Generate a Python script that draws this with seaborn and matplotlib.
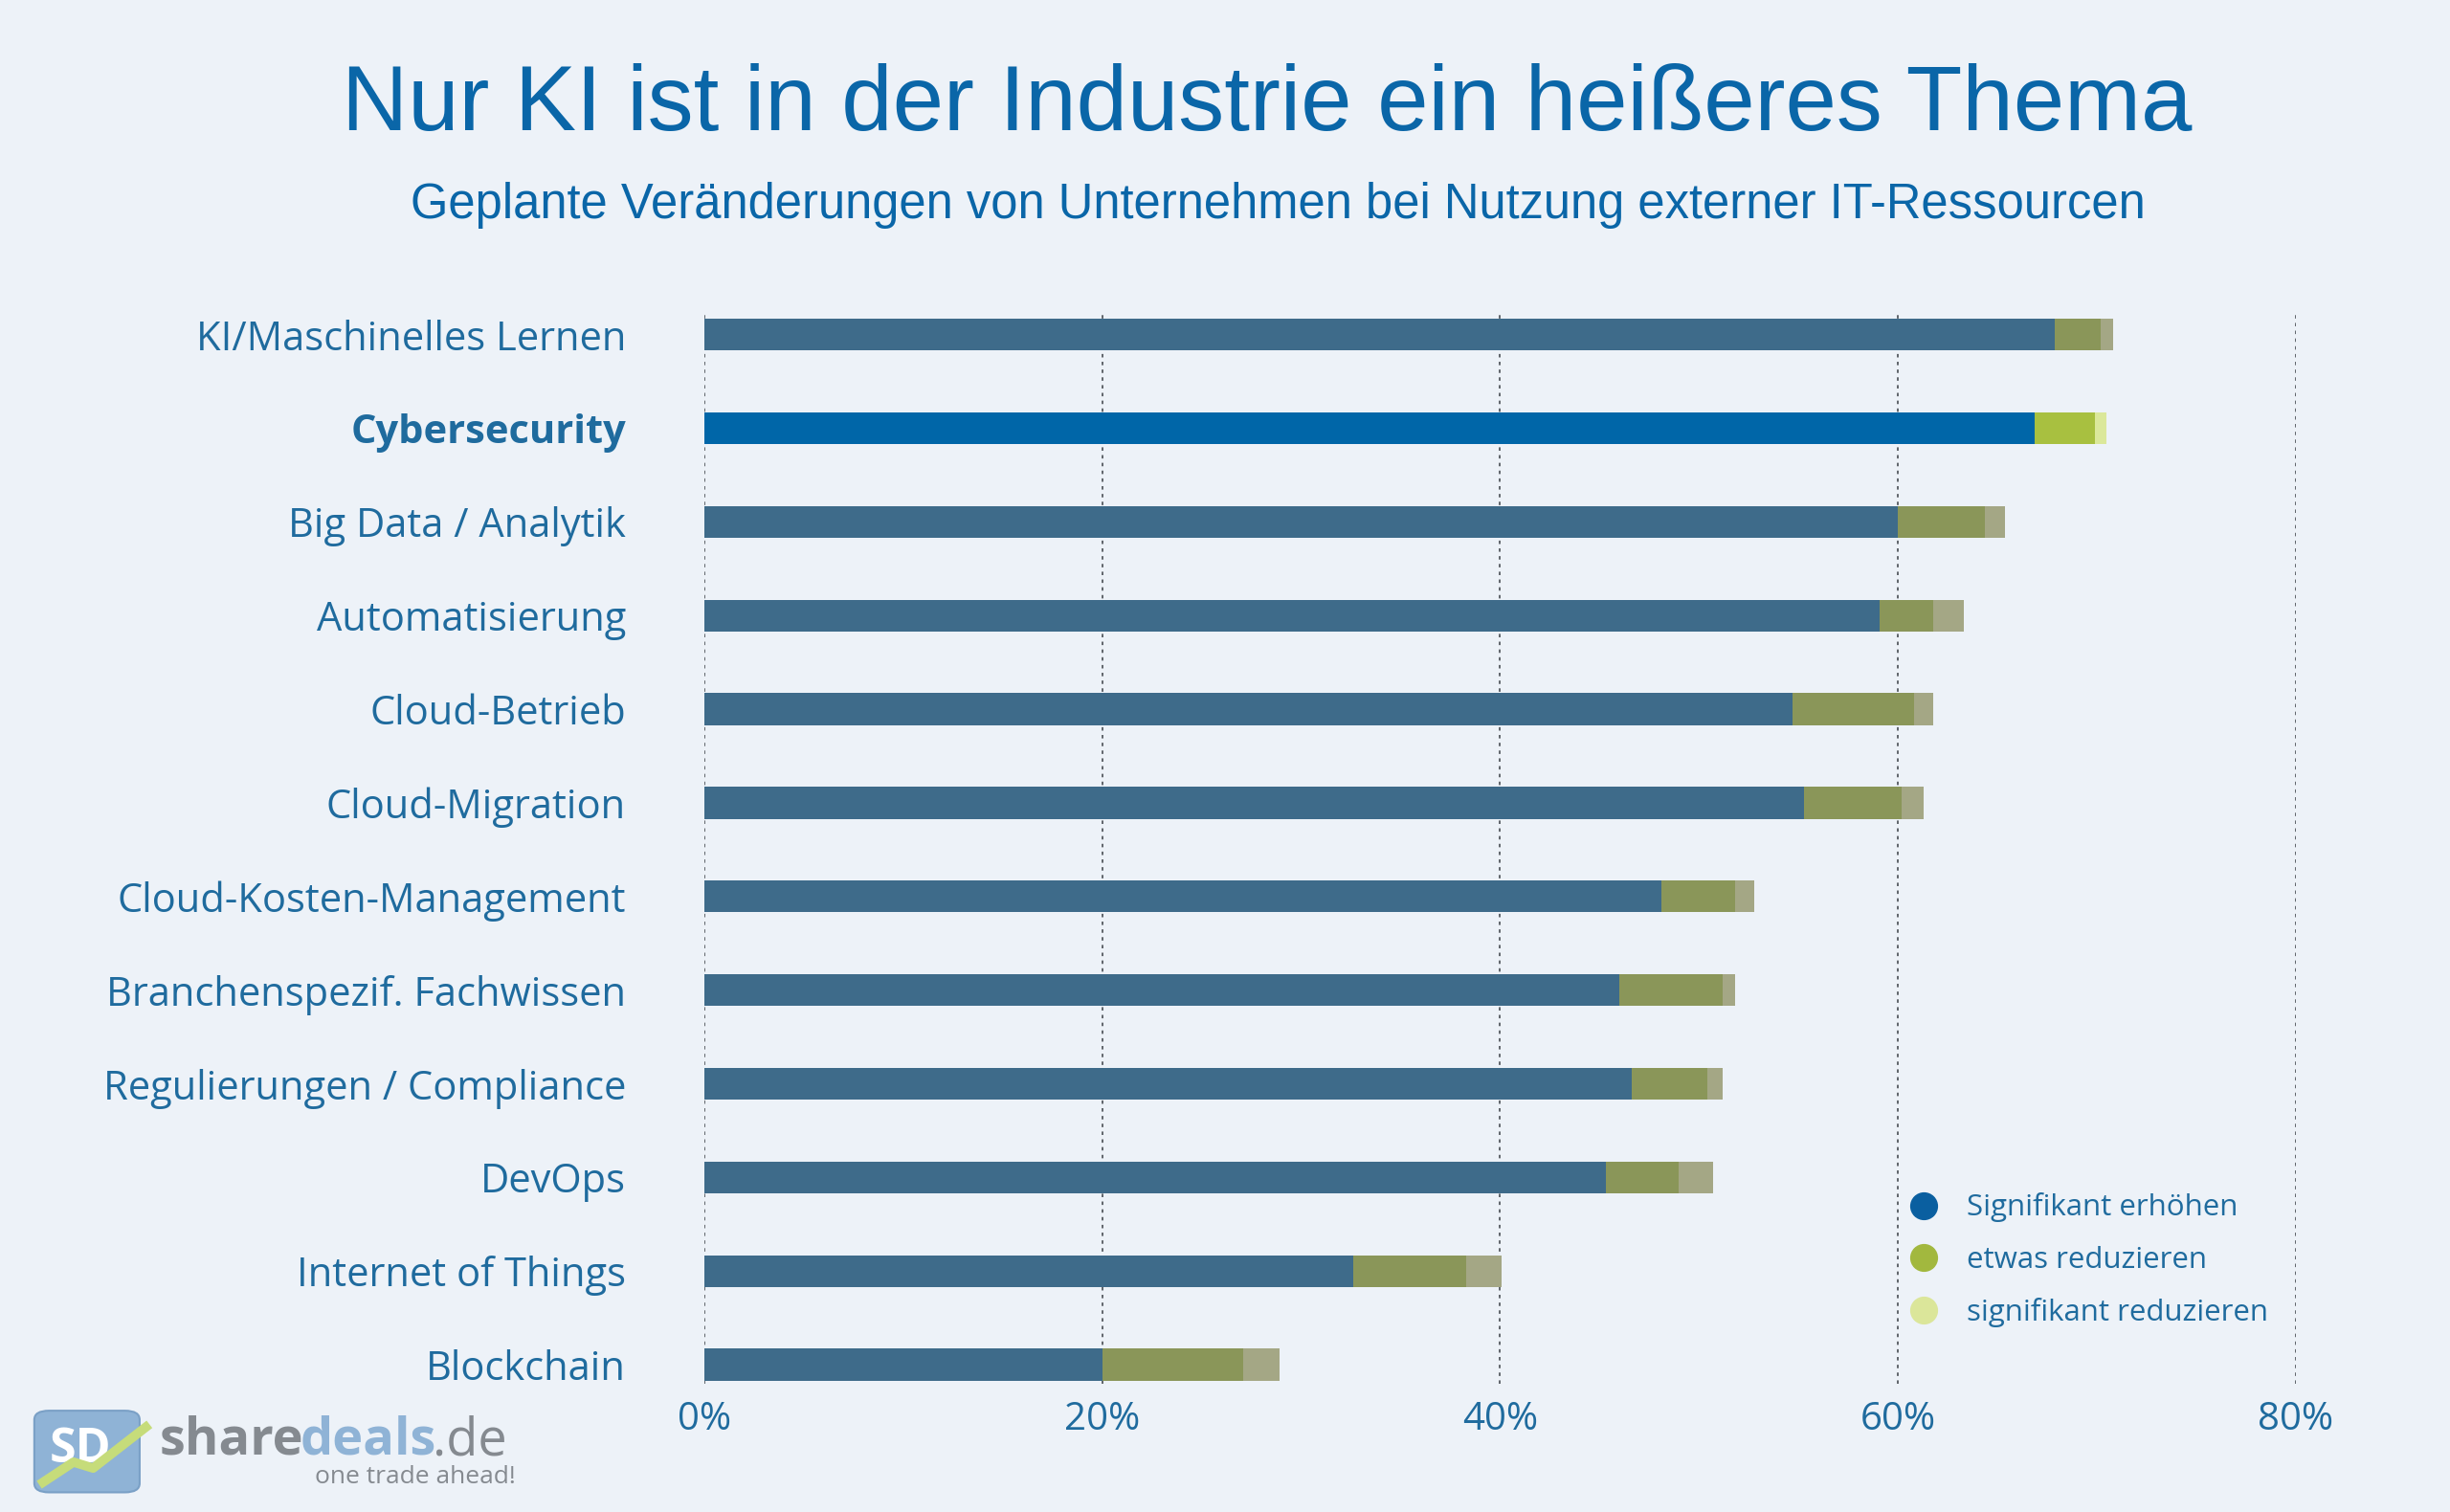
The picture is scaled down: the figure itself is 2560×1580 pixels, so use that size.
import pandas as pd
import seaborn as sns
import matplotlib.pyplot as plt
from matplotlib.lines import Line2D
from matplotlib.patches import FancyBboxPatch

# data (percent of companies)
categories = [
    "KI/Maschinelles Lernen", "Cybersecurity", "Big Data / Analytik",
    "Automatisierung", "Cloud-Betrieb", "Cloud-Migration",
    "Cloud-Kosten-Management", "Branchenspezif. Fachwissen",
    "Regulierungen / Compliance", "DevOps", "Internet of Things", "Blockchain",
]
erhoehen = [67.9, 66.9, 60.0, 59.1, 54.7, 55.3, 48.1, 46.0, 46.6, 45.3, 32.6, 20.0]
etwas_red = [2.3, 3.0, 4.4, 2.7, 6.1, 4.9, 3.7, 5.2, 3.8, 3.7, 5.7, 7.1]
signif_red = [0.6, 0.6, 1.0, 1.5, 1.0, 1.1, 1.0, 0.6, 0.8, 1.7, 1.8, 1.8]
highlight = "Cybersecurity"
xticks = [0, 20, 40, 60, 80]
legend_labels = ["Signifikant erhöhen", "etwas reduzieren", "signifikant reduzieren"]

BG = "#edf2f8"
TXT = "#1f6b9e"
TITLE = "#0a66a8"

df = pd.DataFrame({"Kategorie": categories, "erhoehen": erhoehen,
                   "etwas": etwas_red, "signif": signif_red})
df["stufe2"] = df["erhoehen"] + df["etwas"]
df["stufe3"] = df["stufe2"] + df["signif"]

# colours: muted for all rows, bright for the highlighted one
main_pal = {c: ("#0066a8" if c == highlight else "#3e6b8a") for c in categories}
mid_pal = {c: ("#a8c040" if c == highlight else "#8a9659") for c in categories}
light_pal = {c: ("#dbe89a" if c == highlight else "#a4a785") for c in categories}

sns.set_theme(style="white")
plt.rcParams["font.family"] = ["Open Sans", "DejaVu Sans"]

fig = plt.figure(figsize=(25.6, 15.8), dpi=100, facecolor=BG)
ax = fig.add_axes([0.2875, 0.085, 0.6495, 0.708])
ax.set_facecolor(BG)

bar_w = 0.34
for col, pal in [("stufe3", light_pal), ("stufe2", mid_pal), ("erhoehen", main_pal)]:
    sns.barplot(data=df, x=col, y="Kategorie", hue="Kategorie", palette=pal,
                legend=False, orient="h", width=bar_w, saturation=1,
                errorbar=None, linewidth=0, ax=ax, zorder=3)

ax.set_xlim(0, 80)
ax.set_ylim(11.2, -0.23)
ax.set_xlabel("")
ax.set_ylabel("")
sns.despine(ax=ax, left=True, bottom=True)

# dotted vertical grid
for t in xticks:
    ax.axvline(t, color="#555a60", linestyle=(0, (2, 2.5)), linewidth=1.3, zorder=1)

ax.set_xticks(xticks)
ax.set_xticklabels([f"{t}%" for t in xticks], fontsize=29, color=TXT)
ax.tick_params(axis="x", length=0, pad=13)

ax.set_yticks(range(len(categories)))
ax.set_yticklabels(categories, fontsize=30, color=TXT)
ax.tick_params(axis="y", length=0, pad=59)
for lbl in ax.get_yticklabels():
    if lbl.get_text() == highlight:
        lbl.set_fontweight("bold")

# legend
handles = [Line2D([], [], marker="o", linestyle="", markersize=20, color=c)
           for c in ["#0a5fa0", "#a2b83e", "#dbe69a"]]
leg = fig.legend(handles, legend_labels, loc="upper left",
                 bbox_to_anchor=(0.774, 0.219), frameon=False, fontsize=22.5,
                 labelcolor=TXT, handletextpad=0.95, labelspacing=0.78,
                 handlelength=1.0, borderaxespad=0)

# titles
fig.text(0.517, 0.930, "Nur KI ist in der Industrie ein heißeres Thema",
         ha="center", va="center", fontsize=69, color=TITLE,
         family=["Liberation Sans", "DejaVu Sans"])
fig.text(0.5215, 0.864,
         "Geplante Veränderungen von Unternehmen bei Nutzung externer IT-Ressourcen",
         ha="center", va="center", fontsize=36.5, color=TITLE,
         family=["Liberation Sans", "DejaVu Sans"])

# source logo, bottom left
box = FancyBboxPatch((0.016, 0.015), 0.039, 0.05, boxstyle="round,pad=0.002,rounding_size=0.006",
                     transform=fig.transFigure, facecolor="#8fb3d6", edgecolor="#7aa0c6",
                     linewidth=1.5, zorder=5)
fig.patches.append(box)
fig.text(0.033, 0.041, "SD", ha="center", va="center", fontsize=36, fontweight="bold",
         color="white", zorder=6)
fig.add_artist(Line2D([0.016, 0.030, 0.038, 0.061], [0.018, 0.033, 0.029, 0.058],
                      transform=fig.transFigure, color="#c6dc7a", linewidth=7, zorder=7,
                      solid_capstyle="butt"))
fig.text(0.065, 0.047, "share", ha="left", va="center", fontsize=39, fontweight="bold",
         color="#858a90")
fig.text(0.1225, 0.047, "deals", ha="left", va="center", fontsize=39, fontweight="bold",
         color="#8fb3d6")
fig.text(0.1765, 0.047, ".de", ha="left", va="center", fontsize=39, color="#858a90")
fig.text(0.2105, 0.023, "one trade ahead!", ha="right", va="center", fontsize=19,
         color="#858a90")

fig.savefig("out.png", dpi=100, facecolor=BG)
